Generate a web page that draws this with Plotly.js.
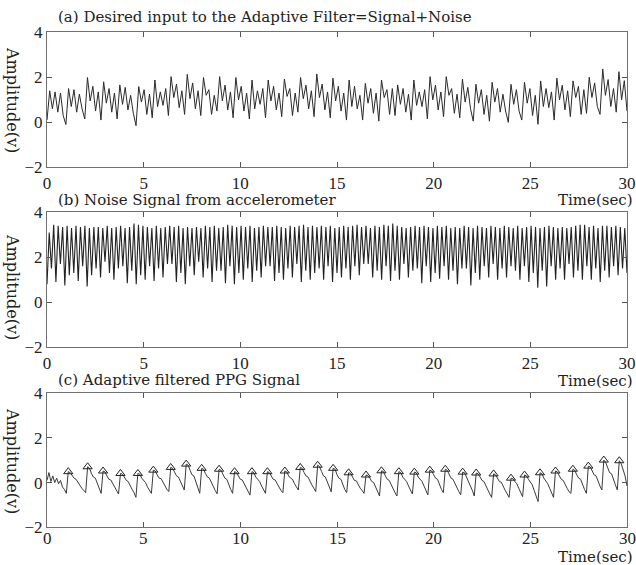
<!DOCTYPE html>
<html>
<head>
<meta charset="utf-8">
<script src="https://cdn.plot.ly/plotly-3.0.1.min.js"></script>
<style>html,body{margin:0;padding:0;background:#fff}#chart{width:636px;height:565px}</style>
</head>
<body>
<div id="chart"></div>
<script>
// ---------- DATA ----------
const xTicks = [0, 5, 10, 15, 20, 25, 30];
const yTicks = [-2, 0, 2, 4];
const titles = [
  "(a) Desired input to the Adaptive Filter=Signal+Noise",
  "(b) Noise Signal from accelerometer",
  "(c) Adaptive filtered PPG Signal"
];
const xLabel = "Time(sec)";
const yLabel = "Amplitude(v)";

// (a) Signal + Noise, sampled at extrema (30 s span)
const signalNoise = [
  0.1, 1.4, 0.6, 1.35, 0.45, 1.3, 0.3, -0.1,
  1.5, 0.7, 1.45, 0.45, 1.25, 0.6, 0.15,
  1.99, 0.95, 1.6, 0.5, 1.35, 0.1,
  1.8, 0.85, 1.5, 0.45, 1.3, 0.15,
  1.66, 0.8, 1.55, 0.55, 1.2, 0.4, -0.15,
  1.59, 0.9, 1.45, 0.35, 1.25, 0.2,
  1.88, 0.7, 1.35, 0.75, 1.5, 0.3,
  2.03, 1.1, 1.7, 0.65, 1.4, 0.35,
  2.13, 1.05, 1.75, 0.6, 1.4, 0.3,
  1.99, 1.2, 1.45, 0.35, 1.2, 0.5,
  2.03, 0.95, 1.65, 0.55, 1.35, 0.2,
  1.99, 1.0, 1.6, 0.5, 1.3, 0.15,
  1.88, 0.6, 1.4, 0.8, 1.5, 0.2,
  1.88, 0.95, 1.6, 0.55, 1.3, 0.25,
  1.92, 1.15, 1.5, 0.3, 1.3, 0.45,
  1.99, 1.05, 1.65, 0.6, 1.4, 0.25,
  2.15, 1.1, 1.7, 0.55, 1.35, 0.2,
  1.96, 0.95, 1.6, 0.5, 1.3, 0.1,
  1.88, 0.7, 1.6, 0.6, 1.2, 0.1,
  1.73, 0.85, 1.5, 0.4, 1.3, 0.05,
  1.88, 1.1, 1.45, 0.35, 1.5, 0.3,
  1.66, 0.8, 1.5, 0.45, 1.25, 0.1,
  1.88, 0.75, 1.35, 0.7, 1.45, 0.15,
  2.03, 1.0, 1.65, 0.55, 1.35, 0.25,
  2.03, 1.2, 1.5, 0.4, 1.25, 0.2,
  1.92, 0.9, 1.55, 0.6, 0.05,
  1.69, 0.85, 1.45, 0.35, 1.2, 0.05,
  1.78, 0.9, 1.5, 0.45, 1.25, 0.5, 0.0,
  1.69, 0.8, 1.45, 0.5, 0.1,
  1.78, 0.85, 1.5, 0.3, 1.2, -0.09,
  1.84, 0.7, 1.5, 0.65, 1.35, 0.1,
  1.96, 1.0, 1.65, 0.55, 1.4, 0.25,
  1.84, 1.1, 1.6, 0.35, 1.45, 0.4,
  2.0, 1.1, 1.75, 0.7, 0.35,
  2.37, 1.2, 1.9, 0.7, 1.5, 0.45,
  2.25, 1.0, 1.85, 0.5
];

// (b) Accelerometer noise, trough/peak pairs (30 s span)
const accelNoise = [
  0.8, 3.1, 1.5, 3.45, 0.9, 3.4, 1.7, 3.35, 0.75, 3.4, 1.2, 3.3,
  1.3, 3.4, 0.95, 3.35, 1.6, 3.4, 0.7, 3.3, 1.2, 3.35,
  1.5, 3.35, 1.1, 3.3, 1.8, 3.4, 1.3, 3.3, 1.0, 3.35, 1.5, 3.4,
  1.6, 3.3, 0.85, 3.35, 1.4, 3.5, 0.8, 3.45, 1.2, 3.4,
  1.0, 3.35, 1.6, 3.3, 0.95, 3.4, 1.5, 3.3, 1.1, 3.35, 1.7, 3.4,
  1.7, 3.35, 0.9, 3.4, 1.3, 3.3, 0.8, 3.35, 1.6, 3.3,
  1.2, 3.35, 1.8, 3.3, 1.1, 3.4, 1.5, 3.35, 0.9, 3.4, 1.4, 3.3,
  1.4, 3.35, 0.85, 3.45, 1.6, 3.4, 0.8, 3.35, 1.3, 3.4,
  1.0, 3.35, 1.5, 3.4, 0.9, 3.3, 1.4, 3.35, 1.1, 3.4, 1.6, 3.35,
  1.6, 3.35, 0.95, 3.4, 1.3, 3.35, 1.0, 3.3, 1.5, 3.4,
  1.1, 3.35, 1.7, 3.4, 0.9, 3.45, 1.4, 3.35, 1.0, 3.4, 1.3, 3.35,
  1.5, 3.4, 1.0, 3.35, 1.6, 3.4, 0.9, 3.3, 1.3, 3.35,
  1.1, 3.4, 1.5, 3.35, 1.0, 3.4, 1.6, 3.45, 1.2, 3.35, 1.7, 3.4,
  1.7, 3.3, 1.1, 3.4, 1.4, 3.35, 1.0, 3.45, 1.6, 3.4,
  0.95, 3.5, 1.4, 3.4, 1.0, 3.35, 1.7, 3.3, 1.1, 3.35, 1.4, 3.4,
  1.5, 3.35, 0.85, 3.4, 1.6, 3.35, 0.9, 3.3, 1.3, 3.4,
  1.05, 3.35, 1.6, 3.4, 1.0, 3.3, 1.4, 3.35, 0.8, 3.3, 1.5, 3.4,
  1.5, 3.35, 0.75, 3.3, 1.3, 3.4, 1.0, 3.35, 1.6, 3.3,
  1.1, 3.4, 1.7, 3.35, 1.0, 3.3, 1.5, 3.4, 1.1, 3.35, 1.6, 3.3,
  1.4, 3.4, 1.0, 3.3, 1.6, 3.35, 0.9, 3.4, 1.3, 3.35,
  0.65, 3.3, 1.4, 3.35, 0.7, 3.4, 1.6, 3.35, 1.0, 3.3,
  1.5, 3.35, 1.0, 3.3, 1.7, 3.35, 1.1, 3.4, 1.4, 3.45,
  1.0, 3.45, 1.6, 3.35, 1.0, 3.4, 1.5, 3.3, 0.9, 3.4,
  1.4, 3.4, 1.1, 3.35, 1.6, 3.4, 1.2, 3.35, 1.5, 3.3,
  1.3
];

// (c) Adaptive filtered PPG, sampled every 0.1 s
const ppgFiltered = [
  0.1, 0.45, 0.05, 0.3, 0.0, 0.2, -0.05, 0.1, -0.2, -0.3, -0.48,
  0.49, 0.45, 0.3, 0.2, 0.15, 0.0, -0.15, -0.25, -0.35, -0.45,
  0.71, 0.65, 0.4, 0.25, 0.2, 0.0, -0.25, -0.48,
  0.52, 0.48, 0.3, 0.15, 0.12, -0.05, -0.2, -0.35, -0.51,
  0.41, 0.38, 0.25, 0.1, 0.05, -0.15, -0.3, -0.45, -0.66,
  0.41, 0.38, 0.2, 0.1, 0.0, -0.2, -0.35, -0.48,
  0.56, 0.52, 0.35, 0.2, 0.18, 0.0, -0.15, -0.3, -0.4,
  0.68, 0.64, 0.45, 0.3, 0.25, 0.05, -0.15, -0.33,
  0.83, 0.78, 0.55, 0.35, 0.3, 0.05, -0.25, -0.48,
  0.64, 0.6, 0.4, 0.25, 0.2, 0.0, -0.2, -0.35, -0.5,
  0.6, 0.55, 0.35, 0.2, 0.15, -0.1, -0.3, -0.48,
  0.49, 0.45, 0.3, 0.15, 0.12, -0.05, -0.2, -0.4, -0.56,
  0.49, 0.45, 0.25, 0.15, 0.05, -0.15, -0.3, -0.48,
  0.49, 0.45, 0.3, 0.15, 0.12, -0.05, -0.2, -0.35, -0.45,
  0.52, 0.48, 0.3, 0.2, 0.15, -0.05, -0.2, -0.33,
  0.68, 0.64, 0.45, 0.3, 0.25, 0.05, -0.1, -0.25, -0.4,
  0.78, 0.72, 0.5, 0.3, 0.25, 0.0, -0.2, -0.41,
  0.64, 0.6, 0.35, 0.2, 0.15, -0.1, -0.3, -0.45,
  0.44, 0.42, 0.25, 0.1, 0.08, -0.1, -0.25, -0.35, -0.48,
  0.34, 0.32, 0.2, 0.05, 0.0, -0.2, -0.4, -0.6,
  0.53, 0.5, 0.3, 0.15, 0.1, -0.1, -0.3, -0.45, -0.6,
  0.49, 0.45, 0.25, 0.15, 0.05, -0.15, -0.35, -0.51,
  0.47, 0.44, 0.25, 0.15, 0.05, -0.15, -0.35, -0.55,
  0.56, 0.52, 0.35, 0.2, 0.15, -0.1, -0.3, -0.45,
  0.6, 0.55, 0.35, 0.2, 0.15, -0.05, -0.2, -0.4, -0.55,
  0.47, 0.44, 0.25, 0.1, -0.1, -0.35, -0.6,
  0.43, 0.4, 0.25, 0.1, 0.05, -0.15, -0.3, -0.5, -0.66,
  0.39, 0.35, 0.2, 0.05, 0.02, -0.2, -0.35, -0.5, -0.66,
  0.2, 0.18, 0.05, -0.05, -0.25, -0.45, -0.63,
  0.34, 0.3, 0.15, 0.05, -0.1, -0.35, -0.6, -0.85,
  0.44, 0.4, 0.2, 0.1, -0.05, -0.25, -0.45, -0.66,
  0.52, 0.48, 0.3, 0.15, 0.1, -0.1, -0.25, -0.4, -0.48,
  0.6, 0.55, 0.35, 0.2, 0.15, -0.1, -0.3, -0.48,
  0.74, 0.7, 0.5, 0.35, 0.3, 0.05, -0.15, -0.33,
  1.01, 0.9, 0.65, 0.45, 0.4, 0.1, -0.1, -0.33,
  0.98, 0.85, 0.6, 0.3, -0.15
];

// (c) detected peaks (triangles)
const peakTimes = [1.1, 2.1, 2.9, 3.8, 4.7, 5.5, 6.4, 7.2, 8.0, 8.9, 9.7, 10.6, 11.4, 12.3, 13.1, 14.0, 14.8,
  15.6, 16.5, 17.3, 18.2, 19.0, 19.8, 20.6, 21.5, 22.2, 23.1, 24.0, 24.7, 25.5, 26.3, 27.2, 28.0, 28.8, 29.6];
const peakValues = [0.49, 0.71, 0.52, 0.41, 0.41, 0.56, 0.68, 0.83, 0.64, 0.6, 0.49, 0.49, 0.49, 0.52, 0.68, 0.78, 0.64,
  0.44, 0.34, 0.53, 0.49, 0.47, 0.56, 0.6, 0.47, 0.43, 0.39, 0.2, 0.34, 0.44, 0.52, 0.6, 0.74, 1.01, 0.98];

const duration = 30;

// ---------- CHART ----------
const timeAxis = arr => arr.map((_, i) => i * duration / (arr.length - 1));
const lineStyle = {color: '#2a2a2a', width: 1};

const traces = [
  {x: timeAxis(signalNoise), y: signalNoise, xaxis: 'x', yaxis: 'y', mode: 'lines', line: lineStyle, hoverinfo: 'skip'},
  {x: timeAxis(accelNoise), y: accelNoise, xaxis: 'x2', yaxis: 'y2', mode: 'lines', line: {color: '#222', width: 1.1}, hoverinfo: 'skip'},
  {x: timeAxis(ppgFiltered), y: ppgFiltered, xaxis: 'x3', yaxis: 'y3', mode: 'lines', line: {color: '#3a3a3a', width: 1}, hoverinfo: 'skip'},
  {x: peakTimes, y: peakValues, xaxis: 'x3', yaxis: 'y3', mode: 'markers',
   marker: {symbol: 'triangle-up-open', size: 8, color: '#222', line: {width: 1, color: '#222'}}, hoverinfo: 'skip'}
];

const W = 636, H = 565, L = 47, R = 9;
const plotW = W - L - R;
const px = v => (v - L) / plotW;
const py = v => 1 - v / H;

const tickFam = '"Liberation Serif", serif';
const textFam = '"DejaVu Serif", serif';
const tickFont = {family: tickFam, size: 17, color: '#222'};

function xAx(anchor, showLabels) {
  return {anchor: anchor, range: [0, duration], tickvals: xTicks, ticktext: xTicks.map(String),
    showticklabels: showLabels,
    showline: true, linecolor: '#707070', linewidth: 1, mirror: 'ticks', ticks: 'inside', ticklen: 5,
    tickcolor: '#555', showgrid: false, zeroline: false, tickfont: tickFont, fixedrange: true};
}
function yAx(anchor, dom) {
  return {anchor: anchor, domain: dom, range: [-2, 4], tickvals: yTicks,
    showline: true, linecolor: '#707070', linewidth: 1, mirror: 'ticks', ticks: 'inside', ticklen: 5,
    tickcolor: '#555', showgrid: false, zeroline: false, tickfont: tickFont, fixedrange: true};
}

const panels = [
  {top: 32.3, bottom: 167.3, titleY: 17, timeY: 200, ampY: 100},
  {top: 212.3, bottom: 347.3, titleY: 200.5, timeY: 381, ampY: 287},
  {top: 393.3, bottom: 527.3, titleY: 380, timeY: 556.5, ampY: 461}
];

const annotations = [];
panels.forEach((p, i) => {
  annotations.push({xref: 'paper', yref: 'paper', x: px(56), y: py(p.titleY), xanchor: 'left', yanchor: 'middle',
    text: titles[i], showarrow: false, font: {family: textFam, size: 15, color: '#222'}});
  annotations.push({xref: 'paper', yref: 'paper', x: px(635), y: py(p.timeY), xanchor: 'right', yanchor: 'middle',
    text: xLabel, showarrow: false, font: {family: textFam, size: 15, color: '#222'}});
  annotations.push({xref: 'paper', yref: 'paper', x: px(13), y: py(p.ampY), xanchor: 'center', yanchor: 'middle',
    text: yLabel, textangle: 90, showarrow: false, font: {family: textFam, size: 16, color: '#222'}});
});
// bottom panel tick labels sit closer to the axis in the reference
xTicks.forEach(v => {
  annotations.push({xref: 'x3', yref: 'paper', x: v, y: py(538), xanchor: 'center', yanchor: 'middle',
    text: String(v), showarrow: false, font: tickFont});
});

const layout = {
  width: W, height: H,
  margin: {l: L, r: R, t: 0, b: 0},
  paper_bgcolor: '#fff', plot_bgcolor: '#fff',
  showlegend: false,
  xaxis: xAx('y', true), yaxis: yAx('x', [py(panels[0].bottom), py(panels[0].top)]),
  xaxis2: xAx('y2', true), yaxis2: yAx('x2', [py(panels[1].bottom), py(panels[1].top)]),
  xaxis3: xAx('y3', false), yaxis3: yAx('x3', [py(panels[2].bottom), py(panels[2].top)]),
  annotations: annotations
};

Plotly.newPlot('chart', traces, layout, {staticPlot: true, displayModeBar: false});
</script>
</body>
</html>
